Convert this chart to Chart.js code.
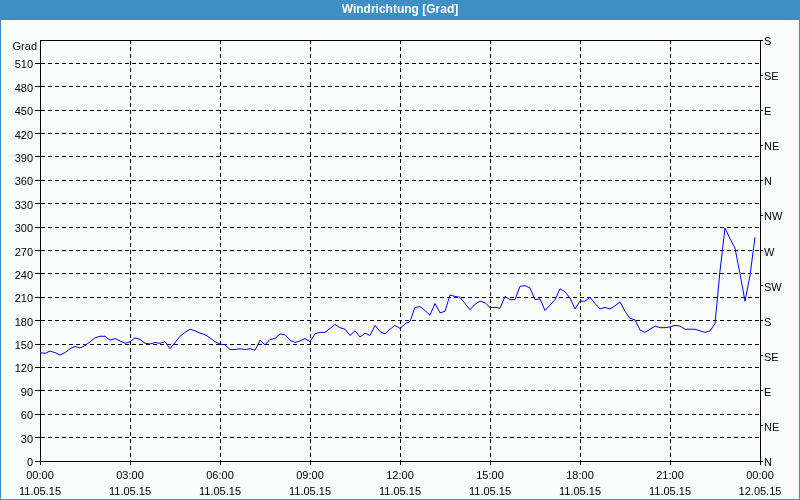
<!DOCTYPE html>
<html>
<head>
<meta charset="utf-8">
<script src="https://cdn.jsdelivr.net/npm/chart.js@4/dist/chart.umd.min.js"></script>
<style>
  html, body { margin: 0; padding: 0; background: #fafcfb; }
  canvas { display: block; }
</style>
</head>
<body>
<canvas id="c" width="800" height="500"></canvas>
<script>
// ---- data ----
const chartTitle = 'Windrichtung [Grad]';
const unitLabel = 'Grad';
// 10-minute readings from 00:00 to 23:50 on 11.05.15 (degrees)
const direction = [
  139,138,141,139,136,139,144,147,145,148,153,158,160,160,155,157,154,151,153,158,156,151,150,152,151,153,144,152,160,165,
  169,167,164,162,158,153,150,149,143,143,144,143,144,142,155,149,156,157,163,162,155,152,154,157,153,163,165,165,170,175,
  171,169,161,167,159,164,161,174,166,163,169,174,170,176,179,197,198,193,187,202,190,192,213,211,210,202,194,201,205,203,
  197,197,196,211,207,207,224,225,222,207,208,193,200,207,221,217,209,195,205,205,210,202,195,197,195,199,204,192,183,181,
  168,165,169,173,171,171,172,174,173,169,169,169,167,165,167,176,244,299,285,273,240,205,238,287
];
const intervalMinutes = 10;
const minutes = direction.map((_, i) => i * intervalMinutes); // time categories (minutes since 00:00)
const xTimeLabels = ['00:00','03:00','06:00','09:00','12:00','15:00','18:00','21:00','00:00'];
const xDateLabels = ['11.05.15','11.05.15','11.05.15','11.05.15','11.05.15','11.05.15','11.05.15','11.05.15','12.05.15'];
const compassLabels = ['N','NE','E','SE','S','SW','W','NW','N','NE','E','SE','S'];

const BLUE = '#3d8fc6';
const BG = '#fafcfb';
const FONT = 'Liberation Sans, Arial, sans-serif';

const frame = {
  id: 'frame',
  beforeDraw(chart) {
    const c = chart.ctx;
    c.save();
    c.fillStyle = BG;
    c.fillRect(0, 0, chart.width, chart.height);
    c.fillStyle = BLUE;
    c.fillRect(0, 0, chart.width, 20);
    c.restore();
  },
  afterDraw(chart) {
    const c = chart.ctx;
    c.save();
    c.strokeStyle = BLUE;
    c.lineWidth = 1;
    c.strokeRect(0.5, 0.5, chart.width - 1, chart.height - 1);
    c.fillStyle = '#000';
    c.font = '11px ' + FONT;
    c.textAlign = 'right';
    c.textBaseline = 'middle';
    c.fillText(unitLabel, chart.chartArea.left - 3, chart.chartArea.top + 7);
    c.restore();
  }
};

new Chart(document.getElementById('c'), {
  type: 'line',
  data: {
    datasets: [{
      data: minutes.map((m, i) => ({ x: m, y: direction[i] })),
      borderColor: '#0000ff',
      borderWidth: 1,
      pointRadius: 0,
      tension: 0,
      fill: false
    }]
  },
  options: {
    responsive: false,
    animation: false,
    devicePixelRatio: 1,
    layout: { padding: 0 },
    plugins: {
      legend: { display: false },
      tooltip: { enabled: false },
      title: {
        display: true,
        text: chartTitle,
        color: '#ffffff',
        font: { family: FONT, size: 12, weight: 'bold', lineHeight: 14 / 12 },
        padding: { top: 3, bottom: 23 }
      }
    },
    scales: {
      x: {
        type: 'linear',
        min: 0,
        max: 1440,
        afterBuildTicks(scale) {
          scale.ticks = xTimeLabels.map((_, i) => ({ value: i * 180 }));
        },
        afterFit(scale) { scale.height = 39; },
        ticks: {
          color: '#000',
          font: { family: FONT, size: 11, lineHeight: 16 / 11 },
          padding: 3,
          maxRotation: 0,
          autoSkip: false,
          callback(v, i) { return [xTimeLabels[i], xDateLabels[i]]; }
        },
        grid: { color: '#000', lineWidth: 1, tickLength: 4, tickColor: '#000' },
        border: { display: true, color: '#000', width: 1, dash: [4, 3] }
      },
      y: {
        position: 'left',
        min: 0,
        max: 540,
        afterFit(scale) { scale.width = 40; },
        ticks: {
          stepSize: 30,
          color: '#000',
          font: { family: FONT, size: 11 },
          padding: 2,
          labelOffset: 2,
          callback(v) { return v === 540 ? '' : String(v); }
        },
        grid: {
          color: '#000',
          lineWidth: 1,
          tickLength: 5,
          tickColor: (ctx) => (ctx.tick && ctx.tick.value === 540) ? 'rgba(0,0,0,0)' : '#000'
        },
        border: {
          display: true, color: '#000', width: 1,
          dash: (ctx) => (ctx.tick && ctx.tick.value === 540) ? [] : [4, 3]
        }
      },
      y2: {
        position: 'right',
        min: 0,
        max: 540,
        afterFit(scale) { scale.width = 40; },
        afterBuildTicks(scale) {
          scale.ticks = compassLabels.map((_, i) => ({ value: i * 45 }));
        },
        ticks: {
          color: '#000',
          font: { family: FONT, size: 11 },
          padding: 1,
          labelOffset: 2,
          autoSkip: false,
          callback(v, i) { return compassLabels[i]; }
        },
        grid: { drawOnChartArea: false, tickLength: 3, tickColor: '#000', lineWidth: 1 },
        border: { display: true, color: '#000', width: 1 }
      }
    }
  },
  plugins: [frame]
});
</script>
</body>
</html>
